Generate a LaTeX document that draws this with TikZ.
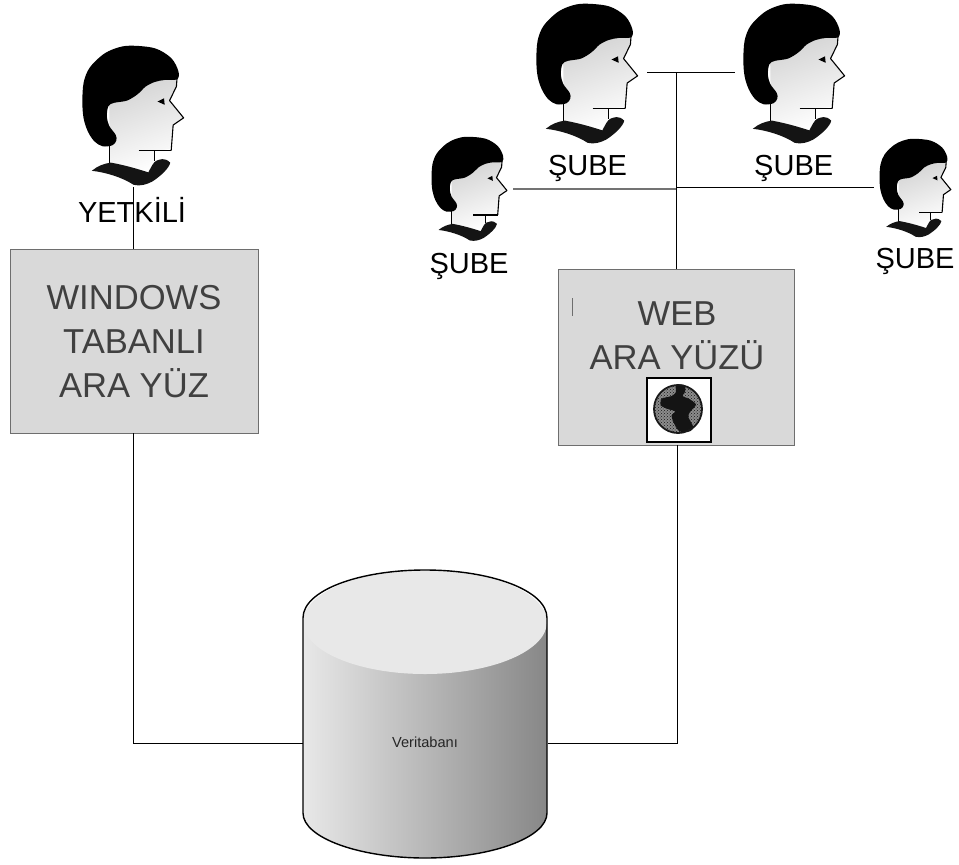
\documentclass[tikz,border=0pt]{standalone}
\usepackage{fontspec}
\setmainfont{Liberation Sans}
\usetikzlibrary{patterns}
\definecolor{boxfill}{HTML}{D9D9D9}
\definecolor{boxline}{HTML}{6E6E6E}
\definecolor{inktext}{HTML}{404040}
\tikzset{
  wire/.style={draw=black,line width=0.9pt},
  panel/.style={draw=boxline,line width=1pt,fill=boxfill},
  biglabel/.style={font=\fontsize{34.6}{44}\selectfont,text=inktext,align=center,inner sep=0pt},
  smalllabel/.style={font=\fontsize{29}{32}\selectfont,text=black,inner sep=0pt,anchor=base},
  person/.pic={
    \begin{scope}[scale=0.3333,shift={(-70,-48)}]
      \path[left color=black!17,right color=white,shading angle=20]
        (150,215) -- (300,150) -- (358,145) -- (356,172) -- (335,215) -- (378,268) -- (346,290) -- (340,362) -- (288,370)
        -- (288,400) -- (270,435) -- (152,405) -- (152,340) -- cycle;
      \draw[line width=1.1pt,line join=round] (358,145) -- (356,172) -- (335,215) -- (378,268) -- (346,290) -- (340,368);
      \draw[line width=1.6pt] (240,368) -- (340,368);
      \draw[line width=1pt] (288,368) -- (288,400);
      \draw[line width=1pt] (152,345) -- (152,408);
      \fill[black] plot[smooth cycle,tension=0.55] coordinates {
        (215,47) (290,55) (340,85) (362,125) (358,150) (320,152) (290,158) (262,172)
        (238,195) (205,215) (165,222) (148,232) (143,262) (150,292) (170,320) (172,337)
        (160,352) (130,355) (105,340) (85,310) (72,270) (68,220) (72,160) (90,115) (130,75) (170,55)};
      \fill[black!92] (97,430) .. controls (115,415) and (135,408) .. (155,405)
        .. controls (195,412) and (240,425) .. (270,435)
        .. controls (278,420) and (285,405) .. (293,400)
        .. controls (305,395) and (320,388) .. (337,405)
        .. controls (335,420) and (310,445) .. (282,463)
        .. controls (265,472) and (245,478) .. (225,473)
        .. controls (190,450) and (140,435) .. (97,430) -- cycle;
      \fill[black] (298,218) -- (318,208) -- (320,228) -- cycle;
    \end{scope}
  }
}
\begin{document}
\begin{tikzpicture}[x=1pt,y=-1pt]
\useasboundingbox (0,0) rectangle (959,865);
\fill[white] (0,0) rectangle (959,865);

% labels of the people
\node[smalllabel] (lblY) at (132,222) {YETKİLİ};
\node[smalllabel] (lblA) at (587.5,175) {ŞUBE};
\node[smalllabel] (lblB) at (793.7,175) {ŞUBE};
\node[smalllabel] (lblC) at (469,273) {ŞUBE};
\node[smalllabel] (lblD) at (915,268) {ŞUBE};

% panels
\node[panel,minimum width=248pt,minimum height=184pt,inner sep=0pt] (win) at (134,341) {};
\node[biglabel] at (134,342) {WINDOWS\\TABANLI\\ARA YÜZ};
\node[panel,minimum width=236pt,minimum height=176pt,inner sep=0pt] (web) at (676,357) {};
\node[biglabel] at (677,336) {WEB\\ARA YÜZÜ};

% free ends and junctions
\coordinate (pY) at (133,187);
\coordinate (pA) at (647,72);
\coordinate (pB) at (735,72);
\coordinate (pC) at (513,189);
\coordinate (pD) at (874,187);
\coordinate (jTop) at (676.5,72);
\coordinate (jMidL) at (676.5,189);
\coordinate (jMidR) at (676.5,187);
\coordinate (winB) at (133,433);
\coordinate (webB) at (677,445);
\coordinate (webT) at (676.5,269);
\coordinate (dbL) at (303,743);
\coordinate (dbR) at (548,743);

\draw[wire] (pY) -- (133,249);
\draw[wire] (pA) -- (pB);
\draw[draw=black!55,line width=1.1pt] (pC) -- (jMidL);
\draw[wire] (jMidR) -- (pD);
\draw[wire] (jTop) -- (webT);
\draw[wire] (winB) |- (dbL);
\draw[wire] (webB) |- (dbR);

% people
\pic[scale=0.98] at (83,46) {person};
\pic[scale=0.98] at (537,4) {person};
\pic[scale=0.98] at (744,4) {person};
\pic[scale=0.73] at (432,137) {person};
\pic[scale=0.69] at (880,139) {person};

% mark and globe
\draw[boxline,line width=1pt] (572.7,298) -- (572.7,316);
\node[draw=black,line width=2pt,fill=white,minimum size=64pt,inner sep=0pt] (globebox) at (679,410) {};
\fill[black!45] (678,409) circle (24);
\fill[pattern=crosshatch dots,pattern color=black!90] (678,409) circle (24);
\begin{scope}[shift={(640,372)},scale=0.3333]
\fill[black!92] plot[smooth cycle,tension=0.4] coordinates {
  (108,38) (135,40) (135,60) (128,72) (150,82) (168,98) (150,120) (145,135) (160,165) (150,178)
  (118,178) (100,150) (95,130) (105,118) (80,110) (62,100) (65,80) (95,72) (108,60)};
\end{scope}
\draw[black!90,line width=1.8pt] (678,409) circle (24);

% database
\path[left color=black!9,right color=black!47]
  (303,618) arc[start angle=180,end angle=360,x radius=122,y radius=-52]
  -- (547,813) arc[start angle=0,end angle=-180,x radius=122,y radius=-45]
  -- cycle;
\fill[black!9] (425,622) ellipse[x radius=122,y radius=52];
\draw[line width=1.4pt] (303,618) .. controls (303,590) and (360,570) .. (425,570)
  .. controls (490,570) and (547,590) .. (547,618)
  -- (547,813) .. controls (547,838) and (490,858) .. (425,858)
  .. controls (360,858) and (303,838) .. (303,813) -- cycle;
\node[font=\fontsize{14.6}{16}\selectfont,text=black!85,inner sep=0pt] (db) at (425,742) {Veritabanı};
\end{tikzpicture}
\end{document}
